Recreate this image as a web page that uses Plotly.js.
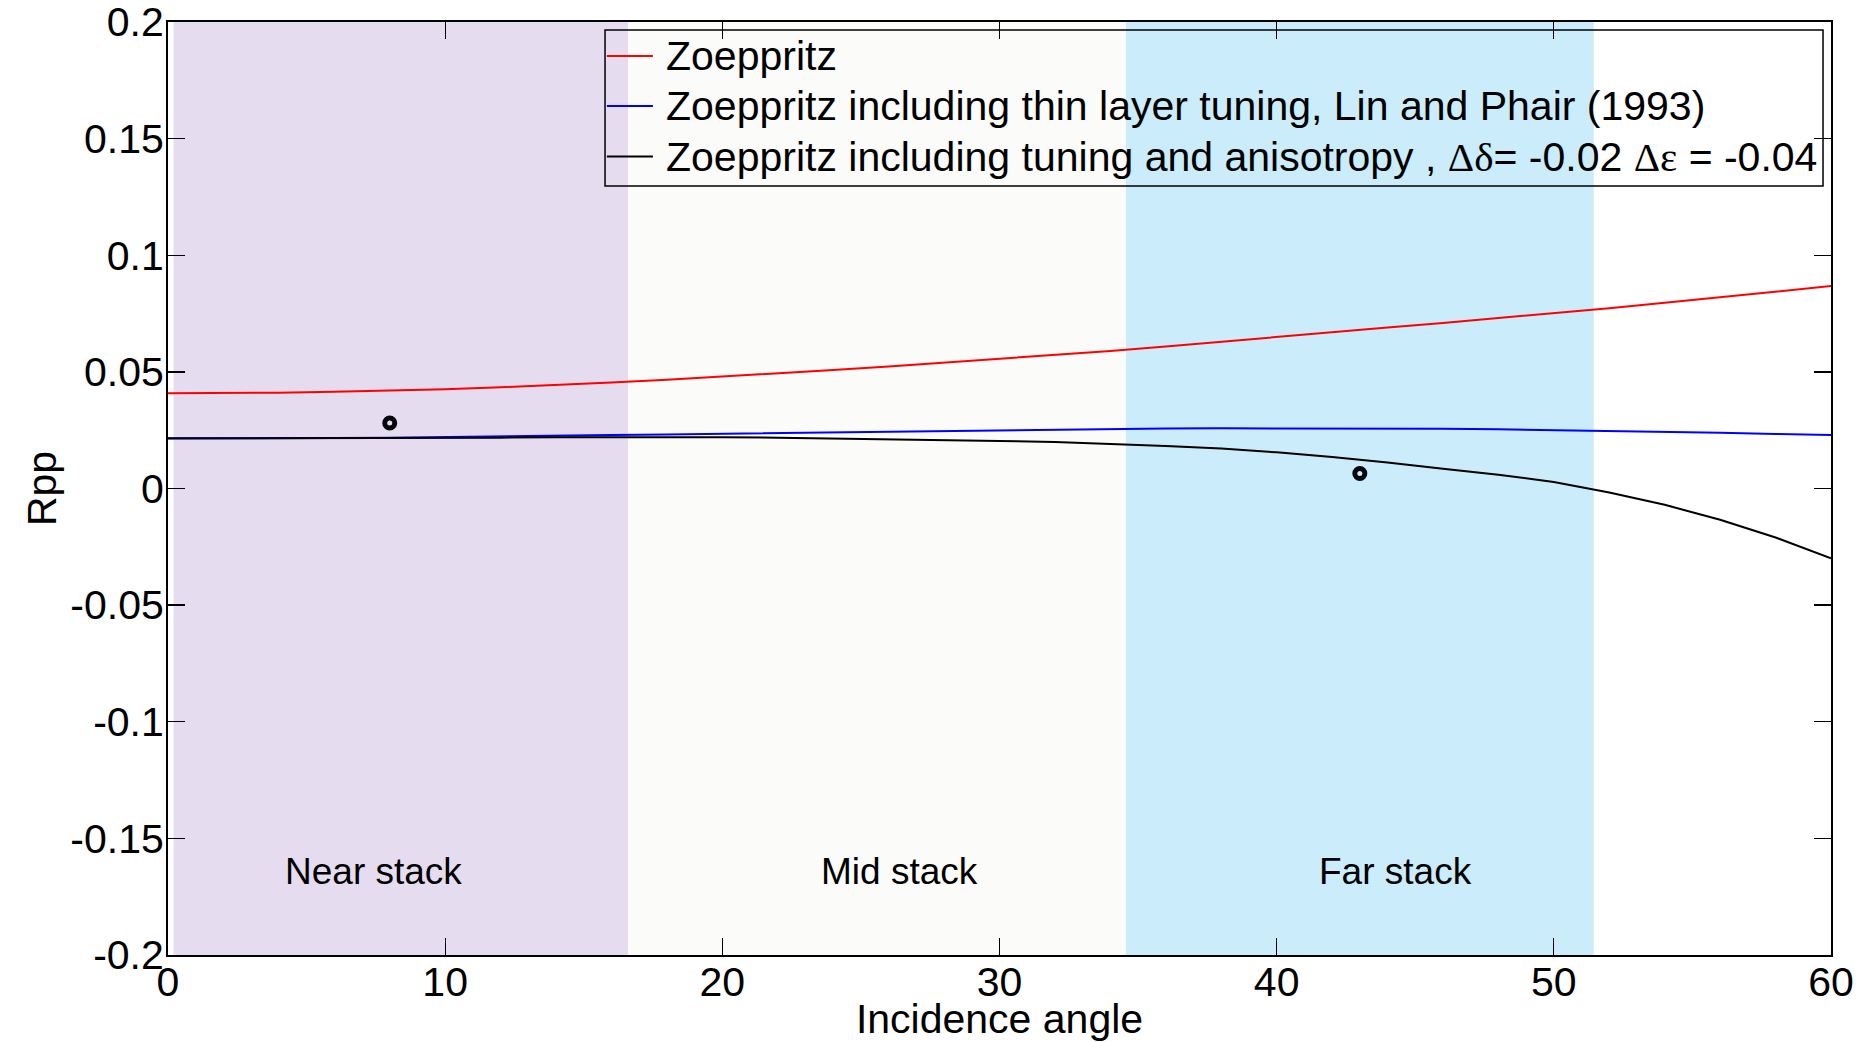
<!DOCTYPE html>
<html>
<head>
<meta charset="utf-8">
<script src="https://cdn.plot.ly/plotly-3.0.1.min.js"></script>
<style>
  html, body { margin: 0; padding: 0; background: #ffffff; }
  #chart { width: 1872px; height: 1042px; }
</style>
</head>
<body>
<div id="chart"></div>
<script>
// Incidence angle (degrees)
const angle = [0, 2, 4, 6, 8, 10, 12, 14, 16, 18, 20, 22, 24, 26, 28, 30,
               32, 34, 36, 38, 40, 42, 44, 46, 48, 50, 52, 54, 56, 58, 60];

// Rpp: plain Zoeppritz
const rppZoeppritz = [0.0408, 0.0409, 0.0411, 0.0415, 0.0420, 0.0426, 0.0434, 0.0443,
                      0.0454, 0.0466, 0.0479, 0.0494, 0.0508, 0.0523, 0.0539, 0.0556,
                      0.0572, 0.0590, 0.0609, 0.0630, 0.0651, 0.0671, 0.0690, 0.0710,
                      0.0730, 0.0751, 0.0773, 0.0796, 0.0820, 0.0844, 0.0868];

// Rpp: Zoeppritz with thin layer tuning (Lin and Phair, 1993)
const rppTuning = [0.0214, 0.0214, 0.0215, 0.0216, 0.0218, 0.0220, 0.0223, 0.0226,
                   0.0229, 0.0232, 0.0235, 0.0237, 0.0240, 0.0243, 0.0246, 0.0249,
                   0.0253, 0.0256, 0.0257, 0.0258, 0.0258, 0.0258, 0.0257, 0.0256,
                   0.0254, 0.0251, 0.0248, 0.0244, 0.0239, 0.0234, 0.0229];

// Rpp: Zoeppritz with tuning and anisotropy
const rppAniso = [0.0215, 0.0215, 0.0215, 0.0215, 0.0216, 0.0217, 0.0218, 0.0220,
                  0.0221, 0.0221, 0.0220, 0.0218, 0.0215, 0.0212, 0.0209, 0.0204,
                  0.0199, 0.0191, 0.0182, 0.0171, 0.0155, 0.0135, 0.0112, 0.0085,
                  0.0059, 0.0028, -0.0017, -0.0070, -0.0134, -0.0210, -0.0299];

// Observed stack amplitudes
const obsAngle = [8, 43];
const obsRpp = [0.0281, 0.0064];

// Angle stacks
const stackNames = ['Near stack', 'Mid stack', 'Far stack'];
const stackStart = [0.2, 16.6, 34.56];
const stackEnd = [16.6, 34.56, 51.44];

// Tick labels
const yTickVals = [0.2, 0.15, 0.1, 0.05, 0, -0.05, -0.1, -0.15, -0.2];
const yTickText = ['0.2', '0.15', '0.1', '0.05', '0', '-0.05', '-0.1', '-0.15', '-0.2'];
const xTickVals = [0, 10, 20, 30, 40, 50, 60];

const FONT = 'Liberation Sans, Arial, Helvetica, sans-serif';
const SERIF = "'Liberation Serif', 'Times New Roman', serif";

const serif = s => '<span style="font-family:' + SERIF + '">' + s + '</span>';

const seriesNames = [
  'Zoeppritz',
  'Zoeppritz including thin layer tuning, Lin and Phair (1993)',
  'Zoeppritz including tuning and anisotropy , ' + serif('\u0394\u03b4') + '= -0.02 ' +
    serif('\u0394\u03b5') + ' = -0.04'
];
const seriesColors = ['#ff0000', '#0000ff', '#000000'];
const seriesValues = [rppZoeppritz, rppTuning, rppAniso];

const stackFill = ['rgb(230,220,239)', 'rgb(251,251,250)', 'rgb(202,236,251)'];
const stackLabelX = [7.4, 26.4, 44.3];
const stackLabelY = -0.164;

const traces = seriesValues.map((vals, i) => ({
  x: angle, y: vals, type: 'scatter', mode: 'lines',
  name: seriesNames[i], showlegend: false,
  line: { color: seriesColors[i], width: 2 }
}));
traces.push({
  x: obsAngle, y: obsRpp, type: 'scatter', mode: 'markers',
  name: 'Stack amplitude', showlegend: false,
  marker: { symbol: 'circle-open', size: 10, color: '#05070c', line: { width: 5, color: '#05070c' } }
});

// Angle-stack bands behind the curves
const shapes = stackNames.map((n, i) => ({
  type: 'rect', layer: 'below', xref: 'x', yref: 'y',
  x0: stackStart[i], x1: stackEnd[i], y0: -0.2, y1: 0.2,
  fillcolor: stackFill[i], line: { width: 0 }
}));

const annotations = stackNames.map((n, i) => ({
  x: stackLabelX[i], y: stackLabelY, xref: 'x', yref: 'y',
  text: n, showarrow: false,
  font: { family: FONT, size: 37, color: '#000000' }
}));

// Boxed key in the upper part of the axes
const keyBox = { x0: 0.2628, x1: 0.9952, y0: 0.8242, y1: 0.9914 };
const keyRowY = [0.9636, 0.9100, 0.8558];
const keyLineX = [0.2639, 0.2916];
const keyTextX = 0.2983;

shapes.push({
  type: 'rect', xref: 'paper', yref: 'paper', layer: 'above',
  x0: keyBox.x0, x1: keyBox.x1, y0: keyBox.y0, y1: keyBox.y1,
  fillcolor: 'rgba(0,0,0,0)', line: { color: '#000000', width: 1.5 }
});
seriesNames.forEach((name, i) => {
  shapes.push({
    type: 'line', xref: 'paper', yref: 'paper', layer: 'above',
    x0: keyLineX[0], x1: keyLineX[1], y0: keyRowY[i], y1: keyRowY[i],
    line: { color: seriesColors[i], width: 2 }
  });
  annotations.push({
    x: keyTextX, y: keyRowY[i], xref: 'paper', yref: 'paper',
    xanchor: 'left', yanchor: 'middle', showarrow: false,
    text: name, font: { family: FONT, size: 41, color: '#000000' }
  });
});

const axisCommon = {
  showgrid: false, zeroline: false,
  showline: true, linecolor: '#000000', linewidth: 2,
  mirror: 'ticks', ticks: 'inside', ticklen: 17, tickwidth: 1.3, tickcolor: '#000000',
  ticklabeloverflow: 'allow',
  tickfont: { family: FONT, size: 41, color: '#000000' }
};

const layout = {
  width: 1872, height: 1042,
  margin: { l: 168, r: 41, t: 22, b: 87 },
  paper_bgcolor: '#ffffff', plot_bgcolor: '#ffffff',
  font: { family: FONT, size: 40, color: '#000000' },
  showlegend: false,
  xaxis: Object.assign({}, axisCommon, {
    range: [0, 60], tickvals: xTickVals, ticktext: xTickVals.map(String),
    ticklabelstandoff: -10,
    title: { text: 'Incidence angle', font: { family: FONT, size: 41, color: '#000000' }, standoff: 14 }
  }),
  yaxis: Object.assign({}, axisCommon, {
    range: [-0.2, 0.2], tickvals: yTickVals, ticktext: yTickText,
    ticklabelstandoff: -6,
    title: { text: 'Rpp', font: { family: FONT, size: 41, color: '#000000' }, standoff: 1 }
  }),
  shapes: shapes,
  annotations: annotations
};

Plotly.newPlot('chart', traces, layout, { displayModeBar: false, staticPlot: true });
</script>
</body>
</html>
